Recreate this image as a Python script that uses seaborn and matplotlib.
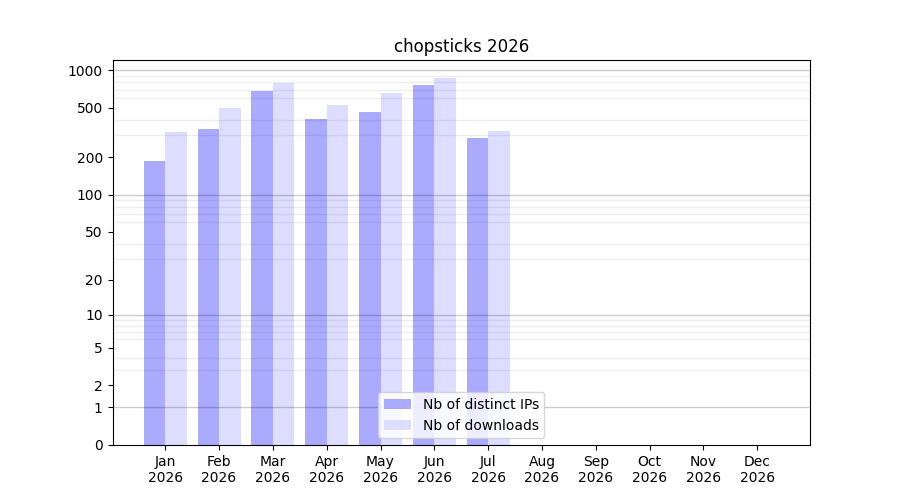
import numpy as np
import pandas as pd
import matplotlib
matplotlib.use("Agg")
import matplotlib.pyplot as plt
from matplotlib.ticker import FixedLocator, NullFormatter
import seaborn as sns

months = ["Jan", "Feb", "Mar", "Apr", "May", "Jun", "Jul", "Aug", "Sep", "Oct", "Nov", "Dec"]
year = "2026"
distinct_ips = [187, 338, 686, 409, 463, 761, 286, 0, 0, 0, 0, 0]
downloads = [320, 501, 790, 526, 657, 866, 326, 0, 0, 0, 0, 0]
series_names = ["Nb of distinct IPs", "Nb of downloads"]
series_colors = ["#aaaaff", "#ddddff"]
y_tick_values = [0, 1, 2, 5, 10, 20, 50, 100, 200, 500, 1000]
title = "chopsticks 2026"

labels = [f"{m}\n{year}" for m in months]
df = pd.DataFrame({
    "month": labels * 2,
    "value": distinct_ips + downloads,
    "series": [series_names[0]] * 12 + [series_names[1]] * 12,
})

fig, ax = plt.subplots(figsize=(9, 5), dpi=100)
sns.barplot(data=df, x="month", y="value", hue="series", order=labels,
            hue_order=series_names, palette=series_colors, errorbar=None,
            saturation=1, width=0.8, ax=ax, zorder=1)

ax.set_yscale("function", functions=(lambda y: np.log10(np.maximum(y, 0) + 1),
                                     lambda y: 10 ** y - 1))
ax.set_ylim(0, 1210)
ax.set_xlim(-0.98, 11.98)

ax.yaxis.set_major_locator(FixedLocator(y_tick_values))
ax.set_yticklabels([str(v) for v in y_tick_values])
minor = [m * 10 ** k for k in range(0, 4) for m in range(1, 10) if m * 10 ** k <= 1200]
ax.yaxis.set_minor_locator(FixedLocator(minor))
ax.yaxis.set_minor_formatter(NullFormatter())
ax.tick_params(axis="y", which="minor", length=0)
ax.yaxis.grid(True, which="minor", color="k", alpha=0.07, lw=1, zorder=3)
for v in [1, 10, 100, 1000]:
    ax.axhline(v, color="k", alpha=0.2, lw=1, zorder=3)
ax.set_axisbelow(False)

ax.set_xlabel("")
ax.set_ylabel("")
ax.set_title(title)
handles, lbls = ax.get_legend_handles_labels()
ax.legend(handles, lbls, loc="lower center")

fig.savefig("out.png", dpi=100)
